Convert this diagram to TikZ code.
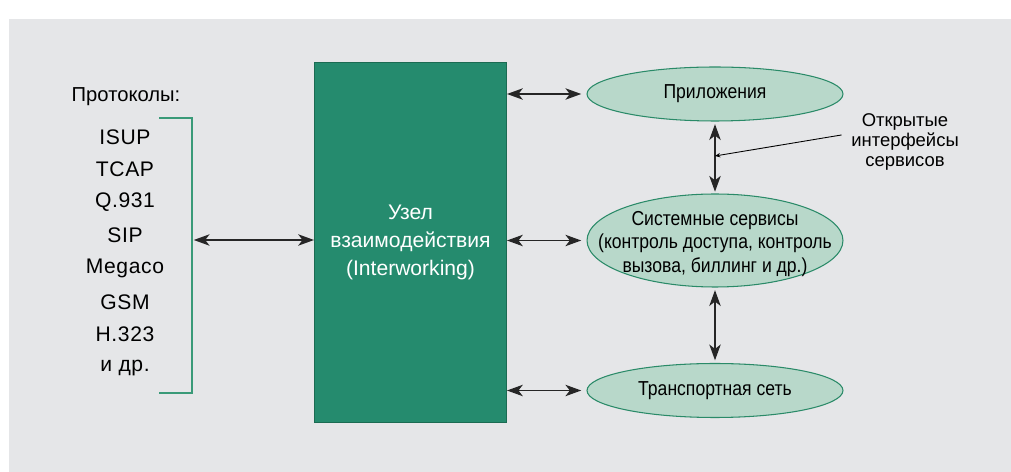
\documentclass[tikz,border=0pt]{standalone}
\usepackage{fontspec}
\setmainfont{Liberation Sans}
\newfontfamily\narrowfont[FakeStretch=0.87]{Liberation Sans}
\newfontfamily\protofont[LetterSpace=3]{Liberation Sans}
\usetikzlibrary{shapes.geometric, arrows.meta}
\definecolor{fonbg}{HTML}{E5E6E8}
\definecolor{uzel}{HTML}{258B6E}
\definecolor{uzelline}{HTML}{1B6B52}
\definecolor{ovalfill}{HTML}{B8D8CA}
\definecolor{ovalline}{HTML}{2A8A68}
\definecolor{skobka}{HTML}{3A9A78}

\begin{document}
\begin{tikzpicture}[
            x=0.02cm, y=-0.02cm, % 1 единица = 1 пиксель
            box/.style={
                rectangle, % узел взаимодействия
                draw=uzelline,
                fill=uzel,
                line width=0.6pt,
                minimum width=3.84cm,
                minimum height=7.22cm,
                text=white,
                align=center,
                font=\fontsize{12}{16}\selectfont
            },
            oval/.style={
                ellipse, % овал сервиса
                draw=ovalline,
                fill=ovalfill,
                line width=0.6pt,
                minimum width=5.12cm,
                minimum height=1.08cm,
                inner sep=0
            },
            ovaltext/.style={align=center, font=\narrowfont\fontsize{11.5}{13.6}\selectfont},
            proto/.style={font=\protofont\fontsize{12}{14}\selectfont}, % строки списка
            arr/.style={
                {Stealth[length=9pt, width=6.5pt, inset=2.5pt]}-{Stealth[length=9pt, width=6.5pt, inset=2.5pt]},
                line width=0.8pt,
                draw=black!85
            }
        ]
        \useasboundingbox (0,0) rectangle (1011,472);
        \fill[fonbg] (9,19) rectangle (1011,472); % фон

        % узел и сервисы
        \node[box] (uzel) at (410.5,242.5) {Узел\\взаимодействия\\(Interworking)};
        \node[oval] (pril) at (715,94) {};
        \node[ovaltext] (prilt) at (pril) {Приложения};
        \node[oval, minimum height=1.86cm] (sys) at (715,240.5) {};
        \node[ovaltext] (syst) at ([yshift=-2pt]sys) {Системные сервисы\\(контроль доступа, контроль\\вызова, биллинг и др.)};
        \node[oval] (trans) at (715,390.5) {};
        \node[ovaltext] (transt) at (trans) {Транспортная сеть};

        % список протоколов
        \node[font=\fontsize{11.5}{14}\selectfont] (title) at (126,97) {Протоколы:};
        \node[proto] (p1) at (125,137) {ISUP};
        \node[proto] (p2) at (125,169) {TCAP};
        \node[proto] (p3) at (125,202) {Q.931};
        \node[proto] (p4) at (125,235) {SIP};
        \node[proto] (p5) at (125,268) {Megaco};
        \node[proto] (p6) at (125,302) {GSM};
        \node[proto] (p7) at (125,334) {H.323};
        \node[proto] (p8) at (125,368) {и др.};
        \coordinate (sk) at (192,240); % середина скобки
        \draw[skobka, line width=0.8pt] (159,118) -- (192,118) -- (192,393) -- (159,393);

        % подпись
        \node[align=center, font=\fontsize{10.5}{11.5}\selectfont] (note) at (905,142)
            {Открытые\\интерфейсы\\сервисов};
        \coordinate (oi) at (715,156);

        % стрелки
        \draw[arr] ([xshift=1pt]sk) -- (uzel.west |- sk);
        \draw[arr] (uzel.east |- pril) -- ([xshift=-3pt]pril.west);
        \draw[arr] (uzel.east |- sys) -- ([xshift=-3pt]sys.west);
        \draw[arr] (uzel.east |- trans) -- ([xshift=-3pt]trans.west);
        \draw[arr, shorten <=1.5pt, shorten >=1pt] (pril.south) -- (sys.north);
        \draw[arr, shorten <=1.5pt, shorten >=1.5pt] (sys.south) -- (trans.north);
        \draw[-{Stealth[length=3pt, width=2.5pt]}, line width=0.5pt] ([xshift=-2pt, yshift=4pt]note.west) -- (oi);
\end{tikzpicture}
\end{document}
